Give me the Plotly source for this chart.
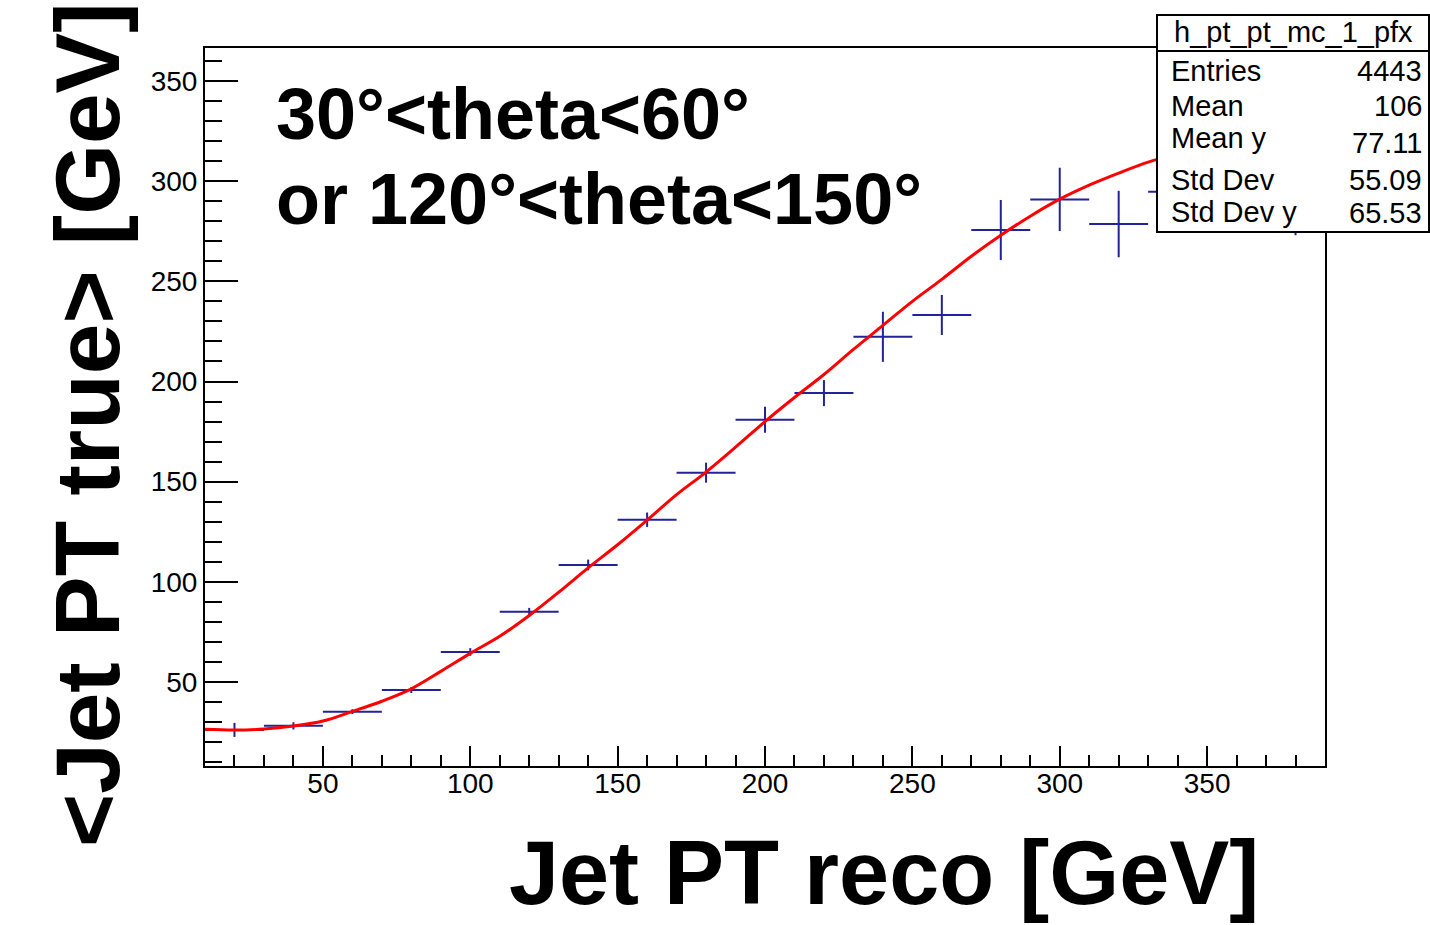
import plotly.graph_objects as go

# ---------------- data ----------------
bin_centers = [20, 40, 60, 80, 100, 120, 140, 160, 180, 200, 220, 240, 260, 280, 300, 320, 340, 360, 380]
mean_true = [26.1, 28.1, 35.2, 46.0, 65.0, 85.1, 108.4, 131.0, 154.5, 180.9, 194.2, 222.3, 233.2, 275.6, 290.9, 278.6, 294.7, 305.0, 298.0]
err_true = [3.5, 1.8, 1.2, 1.5, 1.9, 1.9, 2.7, 3.6, 5.0, 6.5, 6.5, 12.5, 10.0, 15.0, 15.8, 16.6, 15.0, 12.0, 25.0]
bin_half_width = [10] * len(bin_centers)

fit_x = [10, 20, 30, 40, 50, 60, 70, 80, 90, 100, 110, 120, 130, 140, 150, 160, 170, 180, 190, 200,
         210, 220, 230, 240, 250, 260, 270, 280, 290, 300, 310, 320, 330, 340, 350, 360, 370, 380, 390]
fit_y = [26.4, 26.0, 26.5, 28.0, 30.5, 35.3, 40.4, 46.6, 55.3, 64.3, 72.8, 83.2, 94.8, 107.0, 118.5, 130.8,
         143.5, 154.8, 167.2, 180.0, 192.0, 203.5, 216.0, 228.0, 240.0, 251.0, 262.5, 273.0, 282.5, 291.0,
         298.0, 304.0, 309.5, 313.5, 316.5, 318.5, 319.5, 319.5, 318.5]

x_range = [10, 390]
y_range = [8.07, 366.47]

stats_title = "h_pt_pt_mc_1_pfx"
stats_labels = ["Entries", "Mean", "Mean y", "Std Dev", "Std Dev y"]
stats_values = ["4443", "106", "77.11", "55.09", "65.53"]

region_text = ["30°<theta<60°", "or 120°<theta<150°"]
x_title = "Jet PT reco [GeV]"
y_title = "&lt;Jet PT true&gt; [GeV]"

# ---------------- layout geometry ----------------
W, H = 1430, 925
L, R, T, B = 205, 1325, 48, 766
FONT = "Liberation Sans, Arial, Helvetica, sans-serif"


def px(xp):
    return (xp - L) / (R - L)


def py(yp):
    return (B - yp) / (B - T)


blue = "#22229a"

fig = go.Figure()
fig.add_trace(go.Scatter(
    x=bin_centers, y=mean_true, mode="markers",
    marker=dict(size=1, color=blue),
    error_x=dict(type="data", array=bin_half_width, color=blue, thickness=2, width=0),
    error_y=dict(type="data", array=err_true, color=blue, thickness=2, width=0),
    showlegend=False, hoverinfo="skip",
))
fig.add_trace(go.Scatter(
    x=fit_x, y=fit_y, mode="lines",
    line=dict(color="#ff0000", width=3, shape="spline", smoothing=1.0),
    showlegend=False, hoverinfo="skip",
))

fig.update_layout(
    width=W, height=H, autosize=False,
    margin=dict(l=L, r=W - R, t=T, b=H - B, pad=0),
    paper_bgcolor="white", plot_bgcolor="white",
    font=dict(family=FONT, color="black"),
    xaxis=dict(
        range=x_range, showgrid=False, zeroline=False,
        showline=True, linecolor="black", linewidth=2, mirror=True,
        ticks="inside", ticklen=20, tickwidth=1.5, tickcolor="black",
        tick0=0, dtick=50, ticklabelstandoff=-9,
        minor=dict(ticks="inside", ticklen=11, tickwidth=1.5, tickcolor="black", dtick=10, tick0=0, showgrid=False),
        tickfont=dict(family=FONT, size=28, color="black"),
    ),
    yaxis=dict(
        range=y_range, showgrid=False, zeroline=False,
        showline=True, linecolor="black", linewidth=2, mirror=True,
        ticks="inside", ticklen=33, tickwidth=1.5, tickcolor="black",
        tick0=0, dtick=50,
        minor=dict(ticks="inside", ticklen=17, tickwidth=1.5, tickcolor="black", dtick=10, tick0=0, showgrid=False),
        tickfont=dict(family=FONT, size=28, color="black"),
    ),
)

# region text
for txt, ycen in zip(region_text, [114, 198.5]):
    fig.add_annotation(
        text=txt, xref="paper", yref="paper", x=px(274), y=py(ycen),
        xanchor="left", yanchor="middle", showarrow=False,
        font=dict(family=FONT, size=72, color="black", weight="bold"),
    )

# axis titles
fig.add_annotation(
    text=x_title, xref="paper", yref="paper", x=px(884), y=py(873),
    xanchor="center", yanchor="middle", showarrow=False,
    font=dict(family=FONT, size=90, color="black", weight="bold"),
)
fig.add_annotation(
    text=y_title, xref="paper", yref="paper", x=px(87), y=py(425),
    xanchor="center", yanchor="middle", showarrow=False, textangle=-90,
    font=dict(family=FONT, size=91, color="black", weight="bold"),
)

# stats box
BX0, BX1, BY0, BY1, BSEP = 1157, 1429, 15, 232, 51
fig.add_shape(type="rect", xref="paper", yref="paper",
              x0=px(BX0), x1=px(BX1), y0=py(BY1), y1=py(BY0),
              fillcolor="white", line=dict(color="black", width=2), layer="above")
fig.add_shape(type="line", xref="paper", yref="paper",
              x0=px(BX0), x1=px(BX1), y0=py(BSEP), y1=py(BSEP),
              line=dict(color="black", width=2), layer="above")
fig.add_annotation(
    text=stats_title, xref="paper", yref="paper", x=px((BX0 + BX1) / 2), y=py(32),
    xanchor="center", yanchor="middle", showarrow=False,
    font=dict(family=FONT, size=29, color="black"),
)
label_y = [71, 106, 138, 180, 212]
value_y = [71, 106, 143, 180, 213]
for lab, val, ly, vy in zip(stats_labels, stats_values, label_y, value_y):
    fig.add_annotation(
        text=lab, xref="paper", yref="paper", x=px(1169), y=py(ly),
        xanchor="left", yanchor="middle", showarrow=False,
        font=dict(family=FONT, size=29, color="black"),
    )
    fig.add_annotation(
        text=val, xref="paper", yref="paper", x=px(1424), y=py(vy),
        xanchor="right", yanchor="middle", showarrow=False,
        font=dict(family=FONT, size=29, color="black"),
    )

fig.write_html("out.html")
